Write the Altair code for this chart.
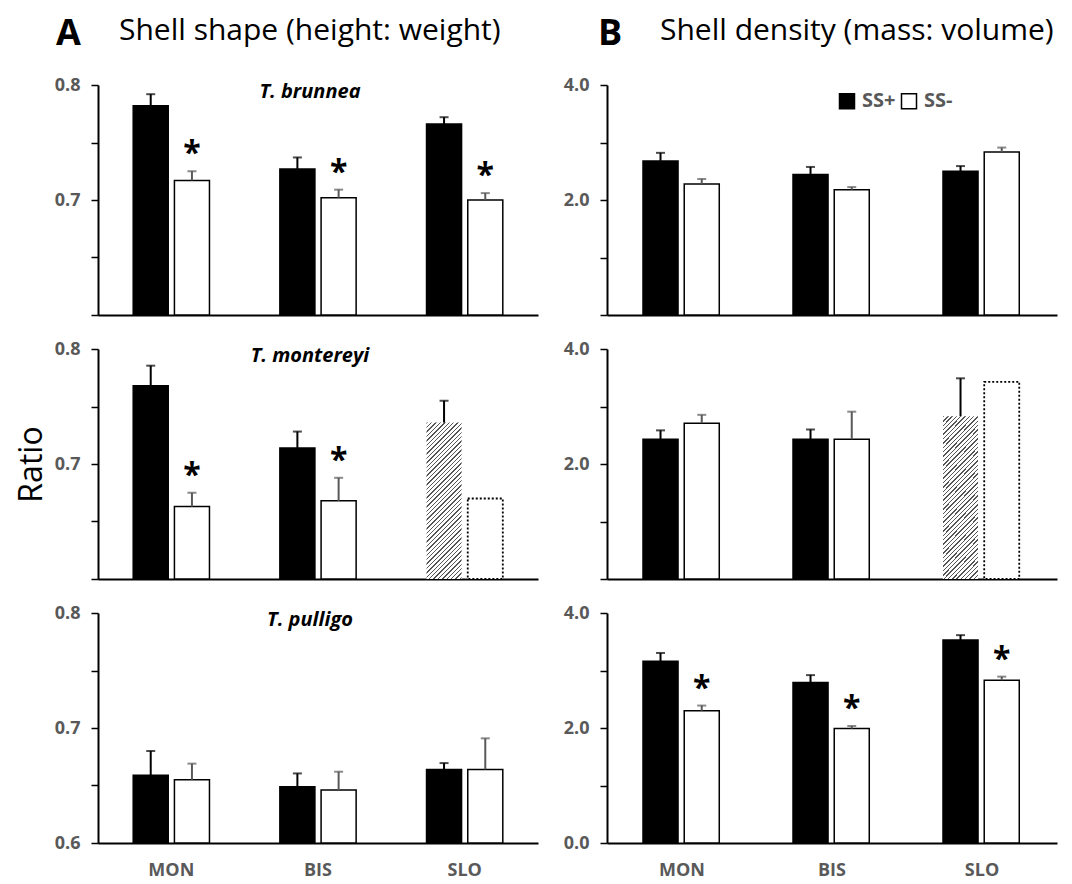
import altair as alt
import pandas as pd

# ---------------- data ----------------
sites = ["MON", "BIS", "SLO"]
groups = ["SS+", "SS-"]

# Shell shape (height: weight)
shape_brunnea_plus = [0.782, 0.727, 0.766]
shape_brunnea_plus_err = [0.010, 0.010, 0.006]
shape_brunnea_minus = [0.717, 0.702, 0.700]
shape_brunnea_minus_err = [0.008, 0.007, 0.006]

shape_montereyi_plus = [0.768, 0.714, 0.736]
shape_montereyi_plus_err = [0.0175, 0.0142, 0.019]
shape_montereyi_minus = [0.663, 0.668, 0.670]
shape_montereyi_minus_err = [0.012, 0.020, 0.0]

shape_pulligo_plus = [0.659, 0.649, 0.664]
shape_pulligo_plus_err = [0.021, 0.0115, 0.0055]
shape_pulligo_minus = [0.655, 0.646, 0.664]
shape_pulligo_minus_err = [0.014, 0.016, 0.027]

# Shell density (mass: volume)
dens_brunnea_plus = [2.68, 2.445, 2.50]
dens_brunnea_plus_err = [0.14, 0.13, 0.09]
dens_brunnea_minus = [2.28, 2.18, 2.835]
dens_brunnea_minus_err = [0.085, 0.045, 0.077]

dens_montereyi_plus = [2.43, 2.43, 2.83]
dens_montereyi_plus_err = [0.155, 0.17, 0.66]
dens_montereyi_minus = [2.71, 2.43, 3.43]
dens_montereyi_minus_err = [0.145, 0.48, 0.0]

dens_pulligo_plus = [3.16, 2.79, 3.53]
dens_pulligo_plus_err = [0.145, 0.13, 0.085]
dens_pulligo_minus = [2.30, 1.99, 2.83]
dens_pulligo_minus_err = [0.09, 0.045, 0.063]

# significance stars (on SS- bars)
stars_shape_brunnea = [1, 1, 1]
stars_shape_montereyi = [1, 1, 0]
stars_shape_pulligo = [0, 0, 0]
stars_dens_brunnea = [0, 0, 0]
stars_dens_montereyi = [0, 0, 0]
stars_dens_pulligo = [1, 1, 1]

# bar kinds (montereyi SLO: hatched SS+, dotted SS-)
kind_default_plus = ["solid", "solid", "solid"]
kind_default_minus = ["solid", "solid", "solid"]
kind_montereyi_plus = ["solid", "solid", "hatch"]
kind_montereyi_minus = ["solid", "solid", "dotted"]

# ---------------- style ----------------
FONT = "Open Sans"
GRAY = "#595959"
W_L, W_R, H = 440, 450, 230


def rows_for(plus, plus_err, minus, minus_err, stars, kplus, kminus, base):
    rows = []
    for i, s in enumerate(sites):
        rows.append(dict(site=s, group="SS+", value=plus[i], err=plus_err[i],
                         top=plus[i] + plus_err[i], base=base, kind=kplus[i], star=0))
        rows.append(dict(site=s, group="SS-", value=minus[i], err=minus_err[i],
                         top=minus[i] + minus_err[i], base=base, kind=kminus[i], star=stars[i]))
    return pd.DataFrame(rows)


def hatch_gradient(w, h, period=4.4, frac=0.33, dark="#555555"):
    c = (w + h) / (w * w + h * h)
    n = (w + h) / period
    stops = []
    i = 0
    while i / n < 1:
        t0 = i / n
        t1 = min((i + frac) / n, 1.0)
        t2 = min((i + 1) / n, 1.0)
        stops += [{"offset": t0, "color": dark}, {"offset": t1, "color": dark},
                  {"offset": t1, "color": "white"}, {"offset": t2, "color": "white"}]
        i += 1
    return {"gradient": "linear", "x1": 0, "y1": 0, "x2": w * c, "y2": h * c, "stops": stops}


def panel(df, dmin, dmax, ticks, labelled, width, show_x, ytitle=None,
          sp_title=None, legend=False, headings=None):
    base = alt.Chart(df)
    xenc = alt.X("site:N", sort=sites,
                 scale=alt.Scale(paddingInner=0.48, paddingOuter=0.24),
                 axis=alt.Axis(title=None, ticks=False, labels=show_x, domainColor="black",
                               domainWidth=2, labelAngle=0, labelFont=FONT, labelFontSize=18,
                               labelFontWeight="bold", labelColor=GRAY, labelPadding=18))
    xoff = alt.XOffset("group:N", sort=groups, scale=alt.Scale(paddingInner=0.15, paddingOuter=0))
    cond = " || ".join(f"datum.value == {v}" for v in labelled)
    yaxis = alt.Axis(values=ticks, labelExpr=f"({cond}) ? format(datum.value, '.1f') : ''",
                     title=ytitle, grid=False, domainColor="black", domainWidth=2,
                     tickColor="black", tickWidth=1.5, tickSize=7, labelPadding=11,
                     labelFont=FONT, labelFontSize=18, labelFontWeight="bold", labelColor=GRAY,
                     titleFont=FONT, titleFontSize=32, titleFontWeight="normal",
                     titleColor="black", titlePadding=6)
    yscale = alt.Scale(domain=[dmin, dmax], nice=False, zero=False)

    def Y(field):
        return alt.Y(f"{field}:Q", scale=yscale, axis=yaxis)

    if legend:
        leg = alt.Legend(title=None, orient="none", legendX=230, legendY=6, direction="horizontal",
                         symbolType="square", symbolSize=225, symbolStrokeColor="black",
                         symbolStrokeWidth=1.5, labelFont=FONT, labelFontSize=20,
                         labelFontWeight="bold", labelColor=GRAY, labelOffset=5,
                         columnPadding=2, padding=0)
    else:
        leg = None

    layers = []
    layers.append(base.transform_filter("datum.kind == 'solid'").mark_bar(
        stroke="black", strokeWidth=1.5).encode(
        x=xenc, xOffset=xoff, y=Y("value"), y2="base:Q",
        color=alt.Color("group:N", scale=alt.Scale(domain=groups, range=["black", "white"]),
                        legend=leg)))

    hatch = df[df.kind == "hatch"]
    if len(hatch):
        v = float(hatch.value.iloc[0])
        bar_w = (width / 3.0) * 0.52 / 1.85 * 0.85
        bar_h = (v - dmin) / (dmax - dmin) * H
        layers.append(base.transform_filter("datum.kind == 'hatch'").mark_bar(
            fill=hatch_gradient(bar_w, bar_h), strokeWidth=0).encode(
            x=xenc, xOffset=xoff, y=Y("value"), y2="base:Q"))
        layers.append(base.transform_filter("datum.kind == 'dotted'").mark_bar(
            fill="white", stroke="black", strokeWidth=1.8, strokeDash=[2, 2]).encode(
            x=xenc, xOffset=xoff, y=Y("value"), y2="base:Q"))

    for g, col in (("SS+", "black"), ("SS-", GRAY)):
        f = f"datum.err > 0 && datum.group == '{g}'"
        layers.append(base.transform_filter(f).mark_rule(color=col, strokeWidth=2).encode(
            x=xenc, xOffset=xoff, y=Y("value"), y2="top:Q"))
        layers.append(base.transform_filter(f).mark_tick(
            color=col, thickness=2, size=9, orient="horizontal").encode(
            x=xenc, xOffset=xoff, y=Y("top")))

    layers.append(base.transform_filter("datum.star == 1").mark_text(
        text="*", font=FONT, fontSize=32, fontWeight="bold", color="black",
        baseline="alphabetic", dy=-7).encode(x=xenc, xOffset=xoff, y=Y("top")))

    one = alt.Chart(pd.DataFrame({"k": [0]}))
    texts = list(headings or [])
    if sp_title:
        texts.append((sp_title, width / 2 - 8, 13, 20, "bold", "center", "italic"))
    for txt, px, py, size, weight, *rest in texts:
        align = rest[0] if rest else "left"
        style = rest[1] if len(rest) > 1 else "normal"
        layers.append(one.mark_text(text=txt, font=FONT, fontSize=size, fontWeight=weight,
                                    fontStyle=style, color="black", align=align,
                                    baseline="alphabetic").encode(
            x=alt.value(px), y=alt.value(py)))

    return alt.layer(*layers).properties(width=width, height=H)


shape_ticks = [0.6, 0.65, 0.7, 0.75, 0.8]
dens_ticks = [0.0, 1.0, 2.0, 3.0, 4.0]

p1 = panel(rows_for(shape_brunnea_plus, shape_brunnea_plus_err, shape_brunnea_minus,
                    shape_brunnea_minus_err, stars_shape_brunnea, kind_default_plus,
                    kind_default_minus, 0.6),
           0.6, 0.8, shape_ticks, [0.7, 0.8], W_L, False, sp_title="T. brunnea",
           headings=[("A", -42, -40, 36, "bold"), ("Shell shape (height: weight)", 21, -45, 30, "normal")])
p2 = panel(rows_for(dens_brunnea_plus, dens_brunnea_plus_err, dens_brunnea_minus,
                    dens_brunnea_minus_err, stars_dens_brunnea, kind_default_plus,
                    kind_default_minus, 0.0),
           0.0, 4.0, dens_ticks, [2.0, 4.0], W_R, False, legend=True,
           headings=[("B", -9, -40, 36, "bold"), ("Shell density (mass: volume)", 53, -45, 30, "normal")])
p3 = panel(rows_for(shape_montereyi_plus, shape_montereyi_plus_err, shape_montereyi_minus,
                    shape_montereyi_minus_err, stars_shape_montereyi, kind_montereyi_plus,
                    kind_montereyi_minus, 0.6),
           0.6, 0.8, shape_ticks, [0.7, 0.8], W_L, False, ytitle="Ratio", sp_title="T. montereyi")
p4 = panel(rows_for(dens_montereyi_plus, dens_montereyi_plus_err, dens_montereyi_minus,
                    dens_montereyi_minus_err, stars_dens_montereyi, kind_montereyi_plus,
                    kind_montereyi_minus, 0.0),
           0.0, 4.0, dens_ticks, [2.0, 4.0], W_R, False)
p5 = panel(rows_for(shape_pulligo_plus, shape_pulligo_plus_err, shape_pulligo_minus,
                    shape_pulligo_minus_err, stars_shape_pulligo, kind_default_plus,
                    kind_default_minus, 0.6),
           0.6, 0.8, shape_ticks, [0.6, 0.7, 0.8], W_L, True, sp_title="T. pulligo")
p6 = panel(rows_for(dens_pulligo_plus, dens_pulligo_plus_err, dens_pulligo_minus,
                    dens_pulligo_minus_err, stars_dens_pulligo, kind_default_plus,
                    kind_default_minus, 0.0),
           0.0, 4.0, dens_ticks, [0.0, 2.0, 4.0], W_R, True)

chart = alt.concat(p1, p2, p3, p4, p5, p6, columns=2,
                   spacing={"row": 34, "column": 69}, bounds="flush").resolve_scale(
    color="independent").resolve_legend(color="independent").properties(
    padding={"left": 7, "top": 8, "right": 5, "bottom": 0}).configure(
    font=FONT).configure_view(stroke=None)

chart.save("out.html", embed_options={"renderer": "svg", "actions": False})
